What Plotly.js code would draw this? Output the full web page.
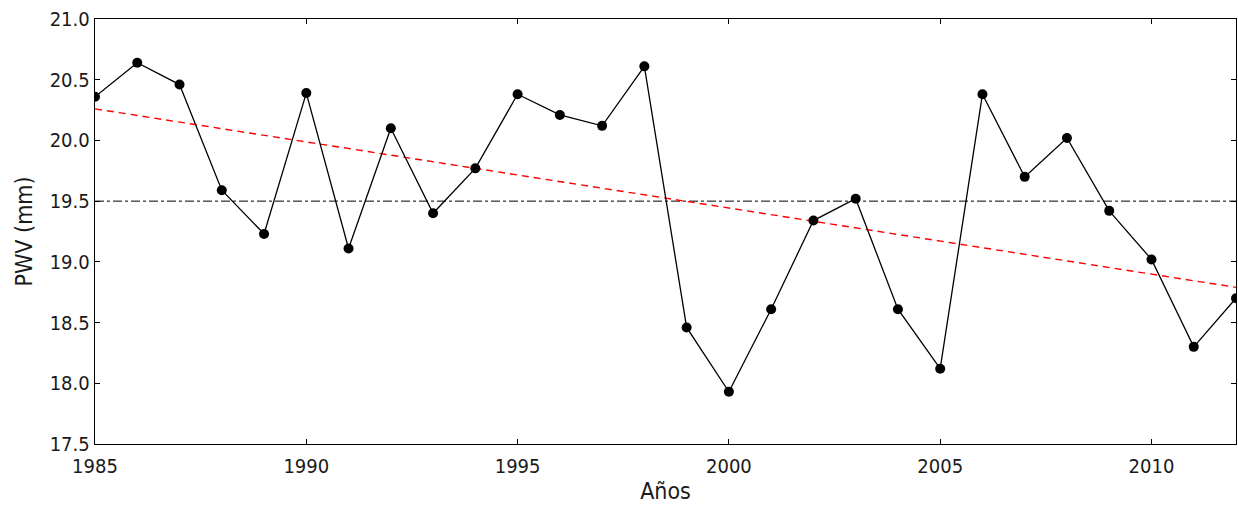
<!DOCTYPE html>
<html><head><meta charset="utf-8">
<script src="https://cdn.plot.ly/plotly-3.0.1.min.js"></script>
<style>html,body{margin:0;padding:0;background:#fff}</style>
</head><body>
<div id="chart" style="width:1238px;height:512px"></div>
<script>
const years = [1985,1986,1987,1988,1989,1990,1991,1992,1993,1994,1995,1996,1997,1998,1999,2000,2001,2002,2003,2004,2005,2006,2007,2008,2009,2010,2011,2012];
const pwv = [20.36,20.64,20.46,19.59,19.23,20.39,19.11,20.10,19.40,19.77,20.38,20.21,20.12,20.61,18.46,17.93,18.61,19.34,19.52,18.61,18.12,20.38,19.70,20.02,19.42,19.02,18.30,18.70];
const trendX = [1985, 2012];
const trendY = [20.26, 18.79];
const meanX = [1985, 2012];
const meanY = [19.5, 19.5];
const xTicks = [1985,1990,1995,2000,2005,2010];
const yTicks = [17.5,18.0,18.5,19.0,19.5,20.0,20.5,21.0];
const yTickText = yTicks.map(v => v.toFixed(1));

const tickFont = "DejaVu Sans Condensed, DejaVu Sans, sans-serif";
const titleFont = "DejaVu Sans Condensed, DejaVu Sans, sans-serif";
const data = [
  {x: meanX, y: meanY, mode: 'lines', line: {color: '#000', width: 1, dash: 'dashdot'}, hoverinfo: 'skip'},
  {x: trendX, y: trendY, mode: 'lines', line: {color: '#ff0000', width: 1.4, dash: '7px,5px'}, hoverinfo: 'skip'},
  {x: years, y: pwv, mode: 'lines+markers', line: {color: '#000', width: 1.3}, marker: {color: '#000', size: 10}}
];
const layout = {
  width: 1238, height: 512,
  margin: {l: 95, r: 2, t: 19, b: 68},
  paper_bgcolor: '#fff', plot_bgcolor: '#fff',
  showlegend: false,
  font: {family: tickFont, color: '#000', size: 20},
  xaxis: {
    range: [1985, 2012], tickvals: xTicks, ticktext: xTicks.map(String),
    ticks: 'inside', ticklen: 5, tickcolor: '#000', mirror: 'ticks',
    showline: true, linecolor: '#000', linewidth: 1.3, showgrid: false, zeroline: false,
    ticklabelstandoff: 4,
    tickfont: {size: 20, family: tickFont, color: '#1a1a1a'},
    title: {text: 'Años', font: {size: 23, family: titleFont, color: '#1a1a1a'}, standoff: 5}
  },
  yaxis: {
    range: [17.5, 21.0], tickvals: yTicks, ticktext: yTickText,
    ticks: 'inside', ticklen: 5, tickcolor: '#000', mirror: 'ticks',
    showline: true, linecolor: '#000', linewidth: 1.3, showgrid: false, zeroline: false,
    tickfont: {size: 20, family: tickFont, color: '#1a1a1a'},
    title: {text: 'PWV (mm)', font: {size: 23, family: titleFont, color: '#1a1a1a'}, standoff: 10}
  }
};
Plotly.newPlot('chart', data, layout, {staticPlot: true, displayModeBar: false});
</script>
</body></html>
